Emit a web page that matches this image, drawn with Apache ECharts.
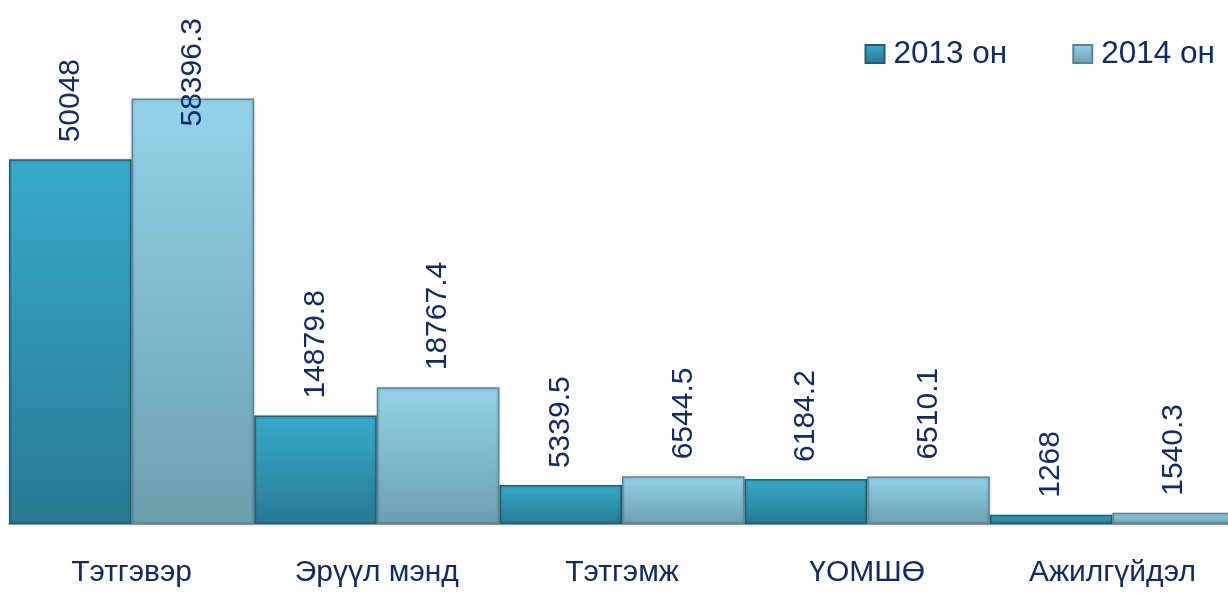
<!DOCTYPE html>
<html>
<head>
<meta charset="utf-8">
<script src="https://cdn.jsdelivr.net/npm/echarts@6/dist/echarts.min.js"></script>
<style>
html,body{margin:0;padding:0;background:#fff;}
#chart{width:1228px;height:593px;}
</style>
</head>
<body>
<div id="chart"></div>
<script>
const categories = ['Тэтгэвэр', 'Эрүүл мэнд', 'Тэтгэмж', 'ҮОМШӨ', 'Ажилгүйдэл'];
const seriesNames = ['2013 он', '2014 он'];
const values2013 = [50048, 14879.8, 5339.5, 6184.2, 1268];
const values2014 = [58396.3, 18767.4, 6544.5, 6510.1, 1540.3];

const navy = '#0f2b6b';
const font = 'Liberation Sans, Arial, sans-serif';

function grad(top, bottom) {
  return new echarts.graphic.LinearGradient(0, 0, 0, 1, [
    {offset: 0, color: top},
    {offset: 1, color: bottom}
  ]);
}

const baseLabel = {
  show: true,
  position: 'top',
  distance: 17,
  rotate: 90,
  align: 'left',
  verticalAlign: 'middle',
  color: navy,
  fontSize: 30,
  fontFamily: font
};

function makeData(vals) {
  return vals.map(v => ({value: v}));
}

const d2014 = makeData(values2014);
// the tallest label is pushed down into the bar (no room above)
d2014[0].label = {position: 'insideTop', distance: 28};

const chart = echarts.init(document.getElementById('chart'), null, {renderer: 'canvas'});
chart.setOption({
  backgroundColor: '#ffffff',
  animation: false,
  legend: {
    data: seriesNames,
    right: 8,
    top: 33,
    icon: 'rect',
    itemWidth: 19,
    itemHeight: 18,
    itemGap: 65,
    textStyle: {color: navy, fontSize: 31.5, fontFamily: font, padding: [0, 0, 0, 4]}
  },
  grid: {left: 9, width: 1226, top: 14, bottom: 69, containLabel: false, outerBoundsMode: 'none'},
  xAxis: {
    type: 'category',
    data: categories,
    axisLine: {show: true, lineStyle: {color: '#a8a8a8', width: 2}},
    axisTick: {show: false},
    axisLabel: {color: navy, fontSize: 30, fontFamily: font, margin: 34, interval: 0}
  },
  yAxis: {
    type: 'value',
    min: 0,
    max: 70000,
    show: false,
    splitLine: {show: false}
  },
  series: [
    {
      name: seriesNames[0],
      type: 'bar',
      data: makeData(values2013),
      barGap: '0%',
      barCategoryGap: '0%',
      itemStyle: {
        color: grad('#37abcb', '#287a92'),
        borderColor: '#235f73',
        borderWidth: 1.5,
        shadowColor: 'rgba(0,0,0,0.2)',
        shadowBlur: 3,
        shadowOffsetY: 1
      },
      label: baseLabel
    },
    {
      name: seriesNames[1],
      type: 'bar',
      data: d2014,
      barGap: '0%',
      barCategoryGap: '0%',
      itemStyle: {
        color: grad('#93d3ea', '#6c9fae'),
        borderColor: '#5b8592',
        borderWidth: 1.5,
        shadowColor: 'rgba(0,0,0,0.2)',
        shadowBlur: 3,
        shadowOffsetY: 1
      },
      label: baseLabel
    }
  ]
});
</script>
</body>
</html>
